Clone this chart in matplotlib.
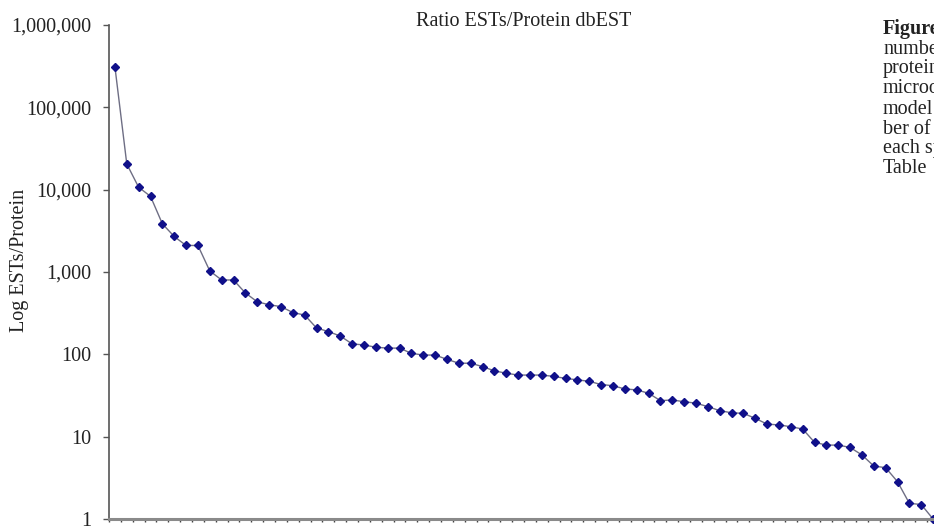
import matplotlib
matplotlib.use('Agg')
import matplotlib.pyplot as plt
from matplotlib.ticker import FuncFormatter, FixedLocator, NullFormatter

plt.rcParams['font.family'] = ['Liberation Serif', 'DejaVu Serif']

# ratio ESTs / protein for each species, sorted high -> low
ratios = [310000, 20500, 10700, 8300, 3850, 2700, 2100, 2100, 1030, 800,
          800, 557, 435, 400, 380, 322, 300, 209, 189, 167,
          134, 130, 122, 119, 119, 103, 98, 98, 87, 78,
          78, 71, 63, 59, 56, 56, 56, 54, 51, 49,
          47, 43, 41.6, 38, 37, 33.7, 27.4, 27.9, 26.6, 25.5,
          23.2, 20.7, 19.5, 19.2, 16.7, 14.2, 13.9, 13.2, 12.4, 8.55,
          7.9, 7.9, 7.4, 6.0, 4.4, 4.2, 2.84, 1.55, 1.5, 1.0]
ytick_vals = [1, 10, 100, 1000, 10000, 100000, 1000000]
title = 'Ratio ESTs/Protein dbEST'
ylabel = 'Log ESTs/Protein'
# caption of the page, cut off by the right edge
caption = ['Figure', 'number', 'protein', 'microorganisms', 'model',
           'ber of proteins', 'each species', 'Table']

W, H = 934, 529
fig = plt.figure(figsize=(W / 100.0, H / 100.0), dpi=100)
# axes run past the right edge like in the scanned page
ax = fig.add_axes([109.0 / W, 10.0 / H, 830.0 / W, 494.0 / H])

xs = [i + 0.5 for i in range(len(ratios))]
ax.plot(xs, ratios, color='#6e6e84', lw=1.0, marker='D', markersize=4.5,
        markerfacecolor='#10108a', markeredgecolor='#10108a', clip_on=False)

ax.set_yscale('log')
ax.set_ylim(1, 1000000)
ax.set_xlim(0, len(ratios))
ax.yaxis.set_major_locator(FixedLocator(ytick_vals))
ax.yaxis.set_minor_locator(FixedLocator([]))
ax.yaxis.set_major_formatter(FuncFormatter(lambda v, p: '{:,.0f}'.format(v)))
ax.xaxis.set_major_locator(FixedLocator(range(len(ratios) + 1)))
ax.xaxis.set_major_formatter(NullFormatter())

for s in ['top', 'right']:
    ax.spines[s].set_visible(False)
ax.spines['left'].set_color('#555555')
ax.spines['left'].set_linewidth(1.2)
ax.spines['bottom'].set_color('#8a8a8a')
ax.spines['bottom'].set_linewidth(2.2)

ax.tick_params(axis='y', direction='out', length=4, width=1, color='#555555',
               labelsize=14.5, pad=9, labelcolor='#222222')
ax.tick_params(axis='x', direction='out', length=2.5, width=1, color='#444444')

fig.text(524.0 / W, 1 - 21.0 / H, title, ha='center', va='center',
         fontsize=14.5, color='#222222')
fig.text(20.0 / W, 1 - 260.0 / H, ylabel, ha='center', va='center',
         rotation=90, fontsize=14.5, color='#222222')

for i, line in enumerate(caption):
    fig.text(883.0 / W, 1 - (29.0 + i * 20.0) / H, line, ha='left', va='center',
             fontsize=14.5, color='#222222',
             fontweight='bold' if i == 0 else 'normal')

fig.savefig('out.png', dpi=100)
